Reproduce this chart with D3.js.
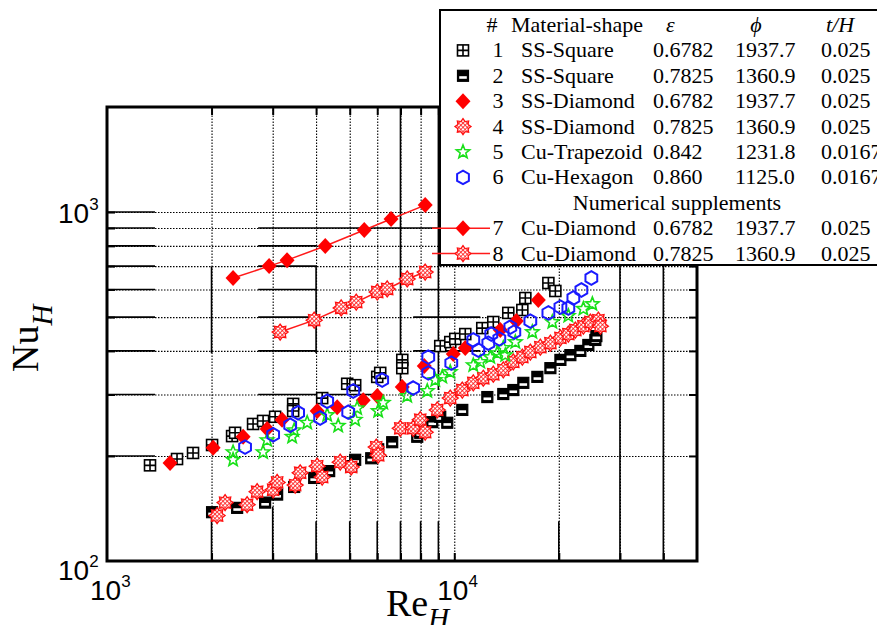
<!DOCTYPE html>
<html>
<head>
<meta charset="utf-8">
<style>
  body { margin: 0; background: #fff; }
  svg { display: block; }
  .serif { font-family: "Liberation Serif", "Times New Roman", serif; }
  .sans { font-family: "Liberation Sans", Arial, sans-serif; }
</style>
</head>
<body>
<div id="chart"></div>
<script src="https://d3js.org/d3.v7.min.js"></script>
<script>
// ---- data (Re_H, Nu_H) ----
var ssSquare1 = [[1330,188],[1591,196],[1769,204],[2007,215],[2292,228],[2338,233],[2634,247],[2815,252],[3049,259],[3436,282],[3436,269],[4165,293],[4917,322],[5184,319],[6000,337],[6120,346],[7084,377],[7084,357],[9112,413],[9738,424],[10067,433],[10757,447],[12040,465],[12953,484],[14306,514],[15704,524],[16019,567],[18663,626],[19548,594]];
var ssSquare2 = [[2007,138],[2370,142],[2853,147],[3090,155],[3459,163],[3950,173],[4363,181],[5049,187],[5184,195],[5766,197],[6039,209],[6626,219],[7823,227],[7980,233],[8642,250],[9112,259],[9546,249],[10546,271],[12450,295],[13840,301],[14791,309],[15806,324],[17348,337],[18915,357],[20214,377],[21593,389],[23070,400],[24325,416],[25486,430],[25656,441]];
var ssDiamond3 = [[1519,191],[2021,211],[2466,227],[2891,239],[3193,254],[4029,269],[4601,276],[5468,289],[6000,297],[7084,315],[8195,362],[9934,392],[10757,408],[13569,459],[15092,487],[17461,560]];
var ssDiamond4 = [[2075,135],[2188,147],[2532,145],[2706,158],[3009,160],[3090,168],[3482,165],[3600,179],[4029,187],[4165,174],[4694,192],[5049,186],[5960,212],[6039,201],[6990,240],[7617,240],[7980,254],[8245,234],[8933,271],[9738,293],[10546,309],[11344,324],[12121,334],[12953,343],[13840,353],[14791,372],[15704,384],[16558,397],[17692,410],[18915,421],[20214,436],[21305,447],[22320,459],[23539,471],[24660,484],[26002,490],[26348,471]];
var cuTrapezoid5 = [[2307,205],[2307,195],[2815,205],[2891,222],[3413,227],[3459,237],[3771,249],[4306,262],[4632,244],[5184,254],[5253,274],[6039,269],[6243,284],[7320,297],[8361,307],[8816,330],[9235,337],[9738,348],[11344,364],[11882,372],[12698,384],[13300,394],[13840,408],[14027,389],[14991,424],[16780,453],[19160,484],[21305,504],[23539,528],[24986,545]];
var cuHexagon6 = [[2498,212],[3009,230],[3369,245],[3551,266],[4110,257],[4306,287],[4950,267],[5117,307],[6201,330],[7617,313],[8416,384],[8416,346],[9804,369],[11344,430],[11727,402],[12531,421],[12782,447],[13480,433],[14503,468],[14892,453],[16558,487],[18663,514],[20214,534],[21305,531],[22026,567],[23227,598],[24816,647]];
var numDiamond7 = [[2307,647],[2930,700],[3300,728],[4250,799],[5505,888],[6577,955],[8245,1047]];
var numDiamond8 = [[3152,453],[3950,490],[4724,531],[5220,552],[6000,590],[6410,602],[7320,643],[8245,673]];

// legend table
var legendNums = ['1','2','3','4','5','6','7','8'];
var legendNames = ['SS-Square','SS-Square','SS-Diamond','SS-Diamond','Cu-Trapezoid','Cu-Hexagon','Cu-Diamond','Cu-Diamond'];
var legendEps = ['0.6782','0.7825','0.6782','0.7825','0.842','0.860','0.6782','0.7825'];
var legendPhi = ['1937.7','1360.9','1937.7','1360.9','1231.8','1125.0','1937.7','1360.9'];
var legendTH = ['0.025','0.025','0.025','0.025','0.0167','0.0167','0.025','0.025'];

// grid / tick values
var xGrid = [2000,3000,4000,5000,6000,7000,8000,9000,10000,20000,30000,40000];
var yGrid = [200,300,400,500,600,700,800,900,1000];
var xDecades = [1000,10000];
var yDecades = [100,1000];

// parts of the grid that are drawn solid instead of dotted: [value, from, to]
var solidH = [
  [200,1000,1375],[300,1000,1375],[400,1000,1375],[500,1000,1375],[600,1000,1375],
  [700,1000,1375],[800,1000,1375],[900,1000,1375],[1000,1000,1375],
  [300,2724,6120],[400,2724,4022],[500,2724,4022],[600,2724,4022],[700,2724,4022],[800,2724,4022],
  [400,7617,11882],[500,7617,11882],[600,7617,11882],[900,2724,9112]
];
var solidV = [
  [2000,100,143],[3000,100,143],[4000,100,130],[5000,100,130],[6000,100,130],[7000,100,130],
  [8000,100,130],[9000,100,130],[20000,100,130],
  [2000,394,698],[4000,394,698],[7000,309,2000],[9000,309,2000],
  [30000,100,700],[40000,100,700]
];

var series = [
  {data: ssSquare1, mark: 'sqCross'},
  {data: ssSquare2, mark: 'sqBar'},
  {data: ssDiamond3, mark: 'diamond'},
  {data: ssDiamond4, mark: 'hatch'},
  {data: cuTrapezoid5, mark: 'star'},
  {data: cuHexagon6, mark: 'hex'},
  {data: numDiamond7, mark: 'diamond', line: true},
  {data: numDiamond8, mark: 'hatch', line: true}
];

var W = 877, H = 625;
var L = 107, R = 697, T = 107, B = 561;

var svg = d3.select('#chart').append('svg')
  .attr('width', W).attr('height', H);

var defs = svg.append('defs');
var pat = defs.append('pattern')
  .attr('id', 'hatchFill')
  .attr('width', 3).attr('height', 3)
  .attr('patternUnits', 'userSpaceOnUse')
  .attr('patternTransform', 'rotate(45)');
pat.append('rect').attr('width', 3).attr('height', 3).attr('fill', '#fff');
pat.append('path').attr('d', 'M0,0H3M0,0V3').attr('stroke', '#ff1010').attr('stroke-width', 1.6);

var x = d3.scaleLog().domain([1000, 50000]).range([L, R]);
var y = d3.scaleLog().domain([100, 2000]).range([B, T]);

// dotted grid, drawn with axes
svg.append('g')
  .attr('transform', 'translate(0,' + B + ')')
  .call(d3.axisBottom(x).tickValues(xGrid).tickSize(-(B - T)).tickFormat(''))
  .call(function(g) {
    g.select('.domain').remove();
    g.selectAll('line').attr('stroke', '#000').attr('stroke-width', 1.1).attr('stroke-dasharray', '1.5,1.5');
  });
svg.append('g')
  .attr('transform', 'translate(' + L + ',0)')
  .call(d3.axisLeft(y).tickValues(yGrid).tickSize(-(R - L)).tickFormat(''))
  .call(function(g) {
    g.select('.domain').remove();
    g.selectAll('line').attr('stroke', '#000').attr('stroke-width', 1.1).attr('stroke-dasharray', '1.5,1.5');
  });

// solid pieces of the grid
svg.append('g').selectAll('line.sh').data(solidH).enter().append('line')
  .attr('x1', function(d) { return x(d[1]); }).attr('x2', function(d) { return x(d[2]); })
  .attr('y1', function(d) { return y(d[0]); }).attr('y2', function(d) { return y(d[0]); })
  .attr('stroke', '#000').attr('stroke-width', 1.6);
svg.append('g').selectAll('line.sv').data(solidV).enter().append('line')
  .attr('x1', function(d) { return x(d[0]); }).attr('x2', function(d) { return x(d[0]); })
  .attr('y1', function(d) { return y(d[1]); }).attr('y2', function(d) { return y(d[2]); })
  .attr('stroke', '#000').attr('stroke-width', 1.6);

// solid inner ticks on all four sides
function ticks(axis, tr, size) {
  svg.append('g')
    .attr('transform', tr)
    .call(axis.tickSize(size).tickFormat(''))
    .call(function(g) {
      g.select('.domain').remove();
      g.selectAll('line').attr('stroke', '#000').attr('stroke-width', 2);
    });
}
ticks(d3.axisBottom(x).tickValues(xGrid), 'translate(0,' + B + ')', -8);
ticks(d3.axisTop(x).tickValues(xGrid), 'translate(0,' + T + ')', -8);
ticks(d3.axisLeft(y).tickValues(yGrid), 'translate(' + L + ',0)', -8);
ticks(d3.axisRight(y).tickValues(yGrid), 'translate(' + R + ',0)', -8);

// frame
svg.append('rect')
  .attr('x', L).attr('y', T).attr('width', R - L).attr('height', B - T)
  .attr('fill', 'none').attr('stroke', '#000').attr('stroke-width', 3);

// markers
function marker(g, type) {
  if (type === 'sqCross') {
    g.append('rect').attr('x', -5.5).attr('y', -5.5).attr('width', 11).attr('height', 11)
      .attr('fill', '#fff').attr('stroke', '#000').attr('stroke-width', 1.6);
    g.append('path').attr('d', 'M0,-5.5V5.5M-5.5,0H5.5').attr('stroke', '#000').attr('stroke-width', 1.6);
  } else if (type === 'sqBar') {
    g.append('rect').attr('x', -5.5).attr('y', -5.5).attr('width', 11).attr('height', 11)
      .attr('fill', '#000').attr('stroke', '#000').attr('stroke-width', 1.2);
    g.append('rect').attr('x', -3.8).attr('y', 0.4).attr('width', 7.6).attr('height', 2.6).attr('fill', '#fff');
  } else if (type === 'diamond') {
    g.append('path').attr('d', 'M0,-8L7.5,0L0,8L-7.5,0Z').attr('fill', '#ff0000');
  } else if (type === 'hatch') {
    var p = [];
    for (var i = 0; i < 16; i++) {
      var a = Math.PI * i / 8, r = i % 2 ? 5.5 : 8;
      p.push([r * Math.sin(a), -r * Math.cos(a)]);
    }
    g.append('path').attr('d', 'M' + p.join('L') + 'Z')
      .attr('fill', 'url(#hatchFill)').attr('stroke', '#ff1010').attr('stroke-width', 1.3);
  } else if (type === 'star') {
    var s = [];
    for (var j = 0; j < 10; j++) {
      var b = Math.PI * j / 5, rr = j % 2 ? 3 : 7;
      s.push([rr * Math.sin(b), -rr * Math.cos(b)]);
    }
    g.append('path').attr('d', 'M' + s.join('L') + 'Z')
      .attr('fill', 'none').attr('stroke', '#19e019').attr('stroke-width', 1.6);
  } else if (type === 'hex') {
    var h = [];
    for (var k = 0; k < 6; k++) {
      var c = Math.PI * k / 3;
      h.push([6.8 * Math.sin(c), -6.8 * Math.cos(c)]);
    }
    g.append('path').attr('d', 'M' + h.join('L') + 'Z')
      .attr('fill', 'none').attr('stroke', '#1a1aff').attr('stroke-width', 2);
  }
}

var line = d3.line().x(function(d) { return x(d[0]); }).y(function(d) { return y(d[1]); });

series.forEach(function(s, si) {
  var gs = svg.append('g').attr('class', 'series s' + (si + 1));
  if (s.line) {
    gs.append('path').attr('d', line(s.data))
      .attr('fill', 'none').attr('stroke', '#ff1a1a').attr('stroke-width', 1.5);
  }
  gs.selectAll('g.pt').data(s.data).enter().append('g')
    .attr('class', 'pt')
    .attr('transform', function(d) { return 'translate(' + x(d[0]) + ',' + y(d[1]) + ')'; })
    .each(function() { marker(d3.select(this), s.mark); });
});

// tick labels 10^n
xDecades.forEach(function(v) {
  var n = Math.round(Math.log10(v));
  var t = svg.append('text').attr('class', 'sans')
    .attr('x', x(v) - 17).attr('y', 600).attr('font-size', 28);
  t.append('tspan').text('10');
  t.append('tspan').attr('font-size', 17).attr('dy', -13).text(n);
});
yDecades.forEach(function(v) {
  var n = Math.round(Math.log10(v));
  var t = svg.append('text').attr('class', 'sans')
    .attr('x', 58).attr('y', v === 100 ? 580 : y(v) + 11).attr('font-size', 28);
  t.append('tspan').text('10');
  t.append('tspan').attr('font-size', 17).attr('dy', -13).text(n);
});

// axis titles
var xt = svg.append('text').attr('class', 'serif').attr('x', 386).attr('y', 616).attr('font-size', 38);
xt.append('tspan').text('Re');
xt.append('tspan').attr('font-style', 'italic').attr('font-size', 29).attr('dy', 12).text('H');

var yt = svg.append('text').attr('class', 'serif')
  .attr('transform', 'translate(38,372) rotate(-90)').attr('font-size', 38);
yt.append('tspan').text('Nu');
yt.append('tspan').attr('font-style', 'italic').attr('font-size', 29).attr('dy', 14).text('H');

// legend
var lg = svg.append('g').attr('class', 'serif').attr('font-size', 22);
lg.append('rect').attr('x', 440).attr('y', 10).attr('width', 470).attr('height', 255)
  .attr('fill', '#fff').attr('stroke', '#000').attr('stroke-width', 2);

var rowY = function(i) { return 25 + 25.4 * i; };
var hdr = lg.append('g').attr('transform', 'translate(0,' + (rowY(0) + 7) + ')');
hdr.append('text').attr('x', 492).attr('text-anchor', 'middle').text('#');
hdr.append('text').attr('x', 511).text('Material-shape');
hdr.append('text').attr('x', 666).attr('font-style', 'italic').text('\u03b5');
hdr.append('text').attr('x', 756).attr('text-anchor', 'middle').attr('font-style', 'italic').text('\u03d5');
hdr.append('text').attr('x', 826).attr('font-style', 'italic').text('t/H');

lg.append('text').attr('x', 677).attr('y', rowY(7) + 7).attr('text-anchor', 'middle')
  .text('Numerical supplements');

legendNums.forEach(function(num, i) {
  var ry = rowY(i < 6 ? i + 1 : i + 2);
  var row = lg.append('g');
  if (series[i].line) {
    row.append('path').attr('d', 'M432,' + ry + 'H490')
      .attr('stroke', '#ff1a1a').attr('stroke-width', 1.5);
  }
  var m = row.append('g').attr('transform', 'translate(463,' + ry + ')');
  marker(m, series[i].mark);
  var ty = ry + 7;
  row.append('text').attr('x', 498).attr('y', ty).attr('text-anchor', 'middle').text(num);
  row.append('text').attr('x', 521).attr('y', ty).text(legendNames[i]);
  row.append('text').attr('x', 653).attr('y', ty).text(legendEps[i]);
  row.append('text').attr('x', 735).attr('y', ty).text(legendPhi[i]);
  row.append('text').attr('x', 821).attr('y', ty).text(legendTH[i]);
});
</script>
</body>
</html>
